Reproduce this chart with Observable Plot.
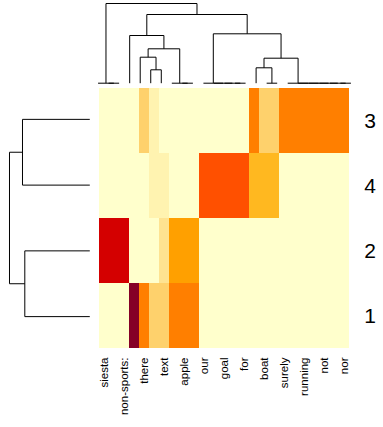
<!DOCTYPE html>
<html><head><meta charset="utf-8">
<script src="https://cdn.jsdelivr.net/npm/d3@7"></script>
<script src="https://cdn.jsdelivr.net/npm/@observablehq/plot@0.6"></script>
<style>
body{margin:0;background:#fff;}
#chart{position:relative;width:383px;height:427px;}
#chart svg{position:absolute;left:0;top:0;}
</style></head><body><div id="chart"></div>
<script>
// Rows (top to bottom) and column tick labels (every other column is labelled)
const rowLabels = ["3", "4", "2", "1"];
const colLabels = ["siesta", "non-sports:", "there", "text", "apple", "our", "goal", "for", "boat", "surely", "running", "not", "nor"];
const nCols = 25;

// Colour level of each cell, one array per row, 25 columns
const row3 = [0,0,0,0,3,1,0,0,0,0,0,0,0,0,0,6,3,3,6,6,6,6,6,6,6];
const row4 = [0,0,0,0,0,1,1,0,0,0,7,7,7,7,7,4,4,4,0,0,0,0,0,0,0];
const row2 = [8,8,8,0,0,0,2,5,5,5,0,0,0,0,0,0,0,0,0,0,0,0,0,0,0];
const row1 = [0,0,0,9,6,3,3,6,6,6,0,0,0,0,0,0,0,0,0,0,0,0,0,0,0];
const rowValues = [row3, row4, row2, row1];

const palette = ["#FFFFCC","#FFF3B0","#FEE391","#FED16C","#FFB820","#FFA000","#FF7F00","#FF5000","#D40000","#850026"];

// Dendrograms: node = [height, left, right], leaf = index
const colTree = [79.7,
  [0, 0, [0, 1, 2]],
  [68.7,
    [47.7, 3, [34.4, [26, 4, [13.4, 5, 6]], [0, 7, [0, 8, 9]]]],
    [49.4,
      [0, 10, [0, 11, [0, 12, [0, 13, 14]]]],
      [25, [15.4, 15, [0, 16, 17]], [0, 18, [0, 19, [0, 20, [0, 21, [0, 22, [0, 23, 24]]]]]]]
    ]
  ]
];
const rowTree = [80.3, [67.3, 0, 1], [65, 2, 3]];

function segments(node, out) {
  if (typeof node === "number") return {pos: node, h: 0};
  const [h, l, r] = node;
  const a = segments(l, out), b = segments(r, out);
  out.push({p1: a.pos, p2: b.pos, h1: h, h2: h});
  out.push({p1: a.pos, p2: a.pos, h1: a.h, h2: h});
  out.push({p1: b.pos, p2: b.pos, h1: b.h, h2: h});
  return {pos: (a.pos + b.pos) / 2, h};
}

const cells = [];
rowValues.forEach((vals, r) => vals.forEach((v, c) => cells.push({row: rowLabels[r], col: c, level: v})));

const W = 383, H = 427;
const mL = 92.3, mR = 27.3, mT = 86, mB = 78;
const font = "Liberation Sans, Arial, Helvetica, sans-serif";
const chartDiv = document.getElementById("chart");

const mainPlot = Plot.plot({
  width: W, height: H,
  marginLeft: mL, marginRight: mR, marginTop: mT, marginBottom: mB,
  style: {fontFamily: font, color: "#000", background: "transparent"},
  x: {type: "band", domain: d3.range(nCols), padding: 0, axis: null},
  y: {type: "band", domain: rowLabels, padding: 0, axis: null},
  color: {type: "ordinal", domain: d3.range(palette.length), range: palette},
  marks: [
    Plot.cell(cells, {x: "col", y: "row", fill: "level", inset: 0, shapeRendering: "crispEdges"}),
    Plot.axisX({anchor: "bottom", label: null, tickFormat: i => i % 2 ? "" : colLabels[i / 2], tickRotate: -90, tickSize: 0, tickPadding: 8, fontSize: 11.5}),
    Plot.axisY({anchor: "right", label: null, tickSize: 0, tickPadding: 8, fontSize: 21})
  ]
});
chartDiv.appendChild(mainPlot);

const colSegs = []; segments(colTree, colSegs);
const topDendro = Plot.plot({
  width: W, height: mT,
  marginLeft: mL, marginRight: mR, marginTop: 3, marginBottom: mT - 82.7,
  style: {background: "transparent"},
  x: {type: "linear", domain: [-0.5, nCols - 0.5], axis: null},
  y: {type: "linear", domain: [0, colTree[0]], axis: null},
  marks: [Plot.link(colSegs, {x1: "p1", x2: "p2", y1: "h1", y2: "h2", stroke: "#000", strokeWidth: 1})]
});
chartDiv.appendChild(topDendro);

const rowSegs = []; segments(rowTree, rowSegs);
const leftDendro = Plot.plot({
  width: mL, height: H,
  marginLeft: 9, marginRight: mL - 89.3, marginTop: mT, marginBottom: mB,
  style: {background: "transparent"},
  x: {type: "linear", domain: [0, rowTree[0]], reverse: true, axis: null},
  y: {type: "linear", domain: [-0.5, rowLabels.length - 0.5], reverse: true, axis: null},
  marks: [Plot.link(rowSegs, {x1: "h1", x2: "h2", y1: "p1", y2: "p2", stroke: "#000", strokeWidth: 1})]
});
chartDiv.appendChild(leftDendro);
</script></body></html>
